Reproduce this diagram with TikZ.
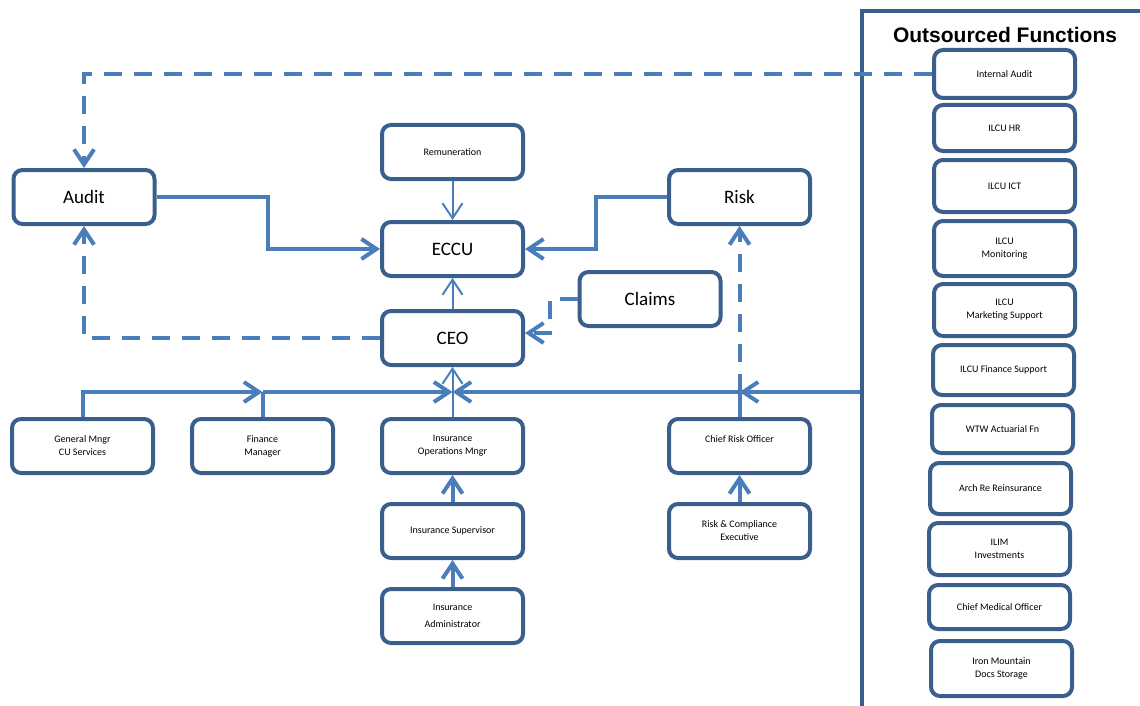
\documentclass[tikz,border=0pt]{standalone}
\usepackage{fontspec}
\setmainfont{Carlito}
\newfontfamily\headfont{Liberation Sans}
\usetikzlibrary{positioning, arrows.meta}
\definecolor{boxblue}{HTML}{3A5F8D}
\definecolor{lineblue}{HTML}{4A7EBB}

\begin{document}
\begin{tikzpicture}[x=1pt, y=-1pt, >={Straight Barb[length=15pt,width=20pt]},
  box/.style={draw=boxblue, line width=4pt, rounded corners=9pt, minimum width=141pt, minimum height=54pt, align=center, inner sep=2pt},
  big/.style={box, font=\fontsize{19}{22}\selectfont},
  small/.style={box, font=\fontsize{10}{13}\selectfont},
  link/.style={draw=lineblue, line width=4pt},
  slim/.style={draw=lineblue, line width=2pt},
  dashlink/.style={link, dash pattern=on 18pt off 12pt}]
\useasboundingbox (0,0) rectangle (1140,706);

% main chart
\node[big] (eccu) at (452.5,249) {ECCU};
\node[small, above=39pt of eccu] (rem) {Remuneration};
\node[big, below=31pt of eccu] (ceo) {CEO};
\node[big] (audit) at (84,197) {Audit};
\node[big] (risk) at (739.5,197) {Risk};
\node[big] (claims) at (650,299) {Claims};
\node[small, below=50pt of ceo] (iom) {Insurance\\Operations Mngr};
\node[small, left=45pt of iom] (fm) {Finance\\Manager};
\node[small, left=35pt of fm] (gm) {General Mngr\\CU Services};
\node[small, right=142pt of iom] (cro) {Chief Risk Officer\\ \mbox{}};
\node[small, below=27pt of iom] (isup) {Insurance Supervisor};
\node[small, below=27pt of isup] (iadm) {Insurance\\[4pt]Administrator};
\node[small, below=27pt of cro] (rce) {Risk \& Compliance\\Executive};

% outsourced functions
\draw[boxblue, line width=4pt] (862,706) -- (862,11) -- (1140,11);
\node[font=\headfont\bfseries\fontsize{21}{24}\selectfont] (head) at (1005,35) {Outsourced Functions};
\node[small, minimum height=48pt] (ia) at (1004.5,74) {Internal Audit};
\node[small, minimum height=46pt, below=3pt of ia] (hr) {ILCU HR};
\node[small, minimum height=52pt, below=5pt of hr] (ict) {ILCU ICT};
\node[small, minimum height=55pt, below=5pt of ict] (mon) {ILCU\\Monitoring};
\node[small, minimum height=52pt, below=4pt of mon] (mkt) {ILCU\\Marketing Support};
\node[small, minimum height=50pt, below=5pt of mkt, xshift=-1pt] (fin) {ILCU Finance Support};
\node[small, minimum height=48pt, below=6pt of fin, xshift=-1pt] (wtw) {WTW Actuarial Fn};
\node[small, minimum height=51pt, below=6pt of wtw, xshift=-2pt] (arch) {Arch Re Reinsurance};
\node[small, minimum height=52pt, below=5pt of arch, xshift=-1pt] (ilim) {ILIM\\Investments};
\node[small, minimum height=44pt, below=6pt of ilim] (cmo) {Chief Medical Officer};
\node[small, minimum height=55pt, below=8pt of cmo, xshift=2pt] (iron) {Iron Mountain\\Docs Storage};

\coordinate (busend) at (860,392);

\draw[dashlink,->] (ia.west) -| (audit.north);
\draw[link,->] (audit.east) -- ++(111,0) |- (eccu.west);
\draw[slim,->] (rem.south) -- (eccu.north);
\draw[link,->] (risk.west) -- ++(-71,0) |- (eccu.east);
\draw[slim,->] (ceo.north) -- (eccu.south);
\draw[dashlink,->] (ceo.west) -| (audit.south);
\draw[dashlink,->] (claims.west) -- ++(-28,0) |- ([yshift=5pt]ceo.east);

% reporting line
\draw[link,->] (gm.north) |- (fm.north |- busend);
\draw[link] (fm.north) -- (fm.north |- busend);
\draw[link,->] (fm.north |- busend) -- (iom.north |- busend);
\draw[link,->] (busend) -- (cro.north |- busend);
\draw[link,->] (cro.north |- busend) -- (iom.north |- busend);
\draw[slim,->] (iom.north) -- (ceo.south);
\draw[link] (cro.north) -- (cro.north |- busend);
\draw[dashlink,->] (cro.north |- busend) -- (risk.south);

\draw[link,->] (isup.north) -- (iom.south);
\draw[link,->] (iadm.north) -- (isup.south);
\draw[link,->] (rce.north) -- (cro.south);
\end{tikzpicture}
\end{document}
